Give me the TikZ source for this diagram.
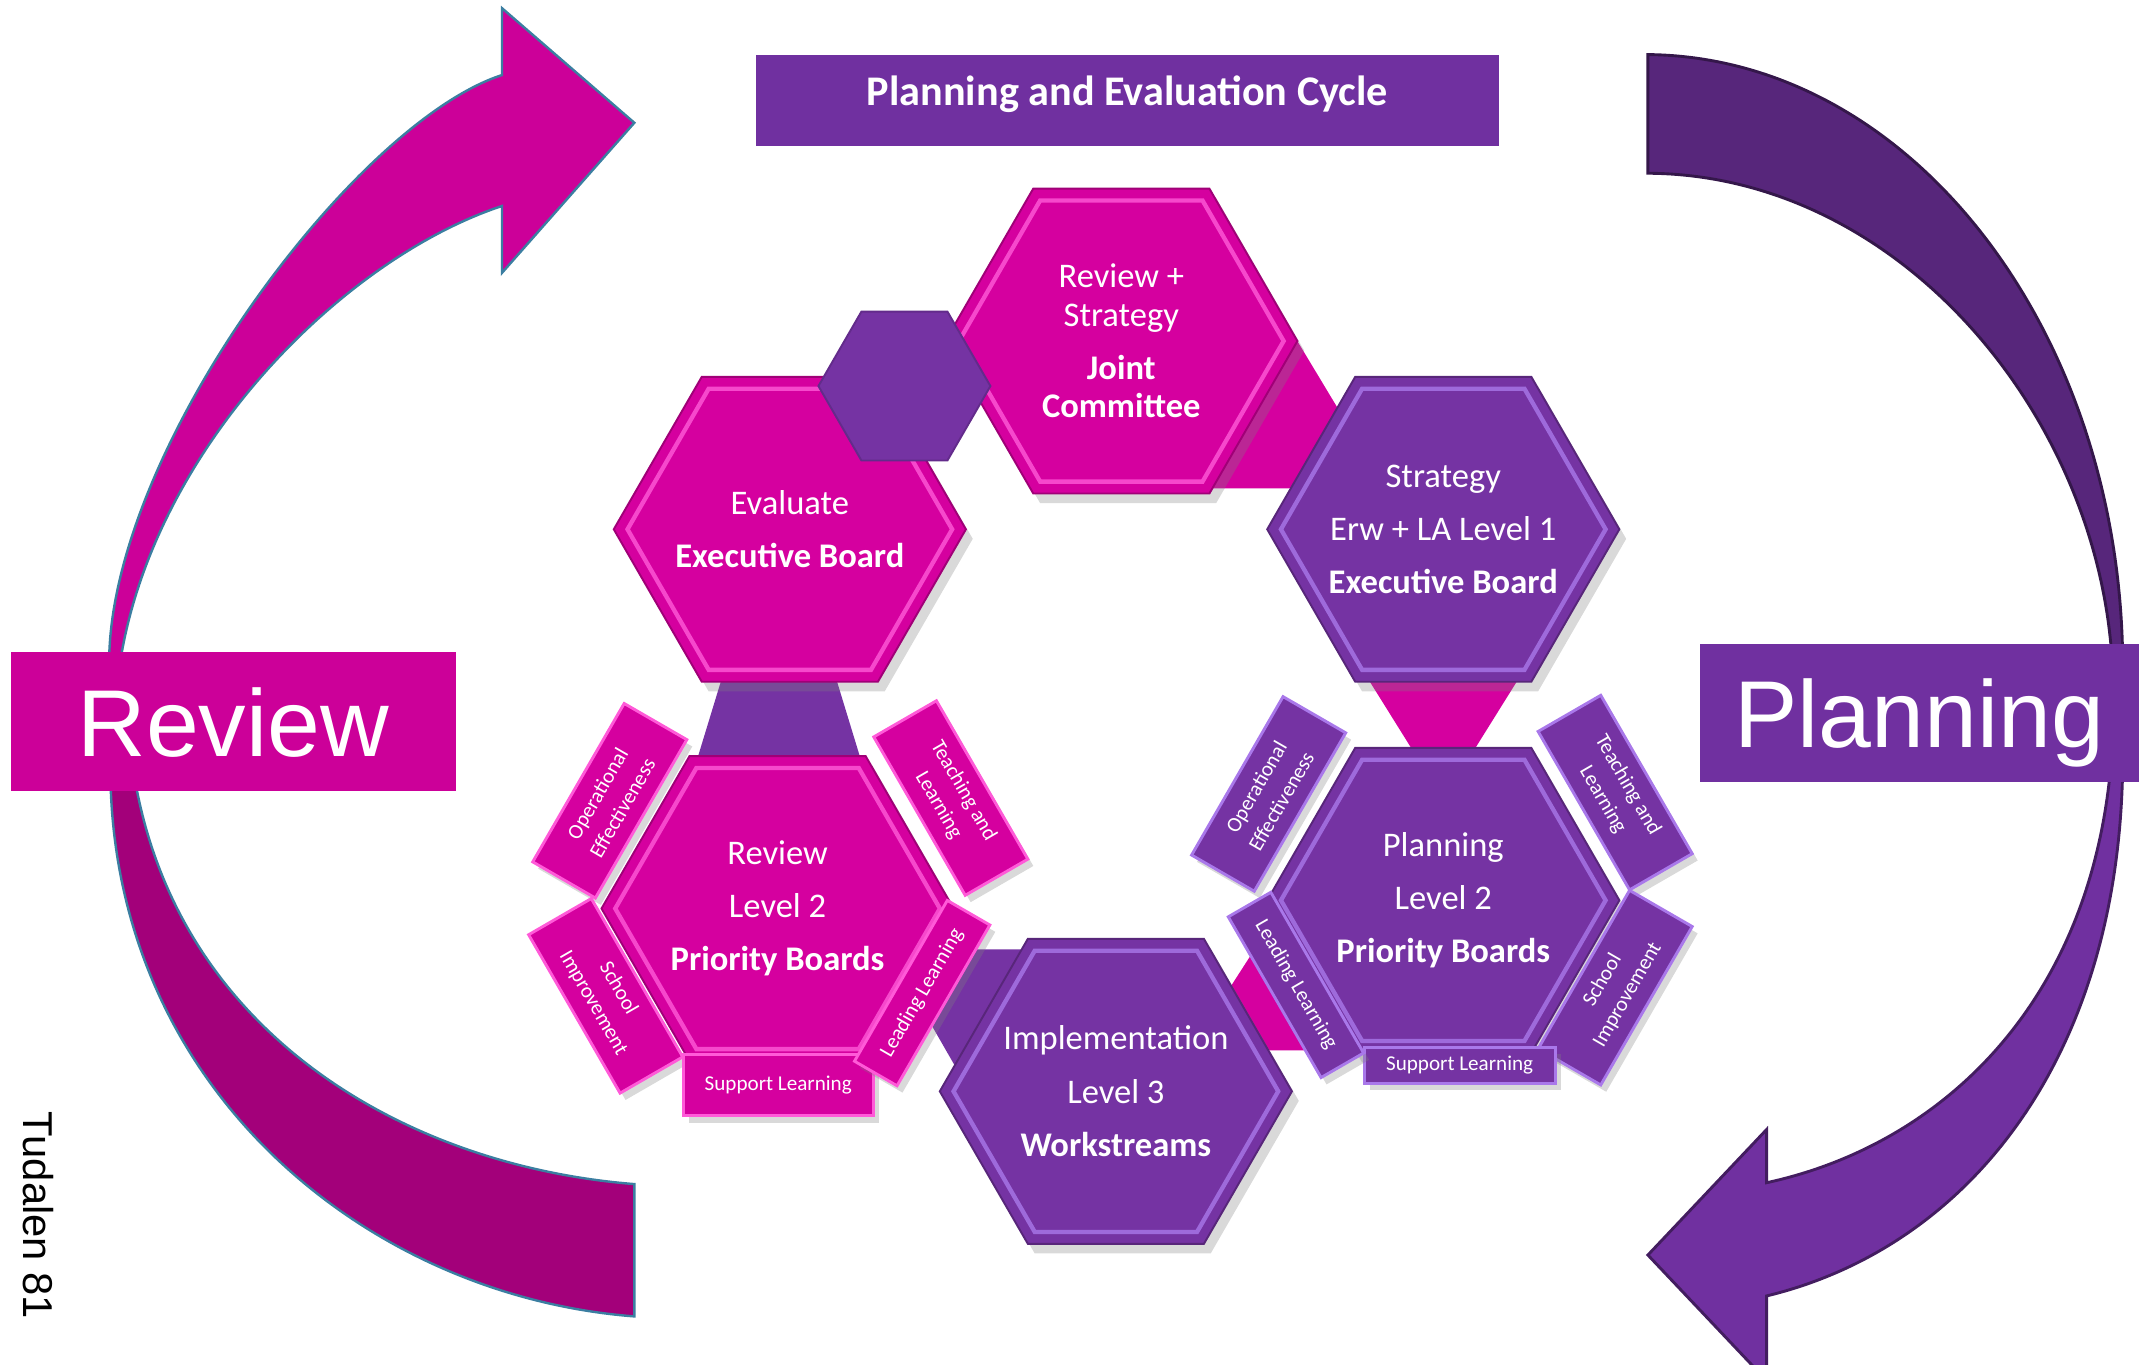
\documentclass[tikz,border=0pt]{standalone}
\usepackage{fontspec}
\setmainfont{Carlito}
\newfontfamily\arialfont{Liberation Sans}
\usetikzlibrary{shapes.geometric,shadows}

\definecolor{reviewpink}{HTML}{CC0099}
\definecolor{reviewdeep}{HTML}{A3007A}
\definecolor{planpurple}{HTML}{7030A0}
\definecolor{plandeep}{HTML}{57267B}
\definecolor{hexpink}{HTML}{D5009F}
\definecolor{hexpinklight}{HTML}{FF5AD8}
\definecolor{hexviolet}{HTML}{7533A3}
\definecolor{hexvioletlight}{HTML}{A978EA}
\definecolor{arrowedge}{HTML}{3B7EA1}

\begin{document}
\begin{tikzpicture}[x=0.01cm, y=-0.01cm,
    hexcell/.style 2 args={regular polygon, regular polygon sides=6,
      minimum size=2.58cm, inner sep=0pt, fill=#1, draw=#1!75!black,
      drop shadow={shadow xshift=0.5mm, shadow yshift=-0.7mm, opacity=0.3},
      path picture={\draw[#2, line width=0.9pt, opacity=0.8]
        (path picture bounding box.center) +(0:119) -- +(60:119) -- +(120:119)
        -- +(180:119) -- +(240:119) -- +(300:119) -- cycle;}},
    boardtext/.style={inner sep=0pt, text=white, align=center,
      font=\fontsize{7.2}{11.1}\selectfont},
    linkcell/.style={regular polygon, regular polygon sides=6,
      minimum size=1.26cm, inner sep=0pt, fill=hexviolet, draw=hexviolet!85!black},
    tabcell/.style 2 args={rectangle, inner sep=0pt, fill=#1, draw=#2,
      line width=0.6pt, text=white, align=center,
      font=\fontsize{4.4}{6}\selectfont,
      drop shadow={shadow xshift=0.4mm, shadow yshift=-0.5mm, opacity=0.3}},
    tabwide/.style={minimum width=1.34cm, minimum height=0.53cm},
    tabslim/.style={minimum width=1.36cm, minimum height=0.36cm},
    sidebox/.style={rectangle, inner sep=0pt, text=white, text depth=0pt,
      font=\arialfont\fontsize{19.8}{22}\selectfont}]
  \useasboundingbox (0,0) rectangle (1568,1000);
  \clip (0,0) rectangle (1568,1000);

  % Review arrow, upper part with head
  \draw[fill=reviewpink, draw=arrowedge, line width=0.5pt]
    (80,486) .. controls (80,330) and (260,90) .. (368,55) -- (368,6) -- (465,90)
    -- (368,200) -- (368,151) .. controls (250,190) and (112,330) .. (88,486) -- cycle;
  % Review arrow, lower part
  \draw[fill=reviewdeep, draw=arrowedge, line width=0.5pt]
    (81,572) .. controls (86,800) and (270,950) .. (465,965) -- (465,868)
    .. controls (300,855) and (132,760) .. (99,572) -- cycle;
  % Planning arrow, upper part
  \draw[fill=plandeep, draw=plandeep!60!black, line width=0.6pt]
    (1208,40) .. controls (1400,42) and (1552,240) .. (1556,480) -- (1548,480)
    .. controls (1535,300) and (1390,128) .. (1208,127) -- cycle;
  % Planning arrow, lower part with head
  \draw[fill=planpurple, draw=planpurple!60!black, line width=0.6pt]
    (1556,565) .. controls (1552,780) and (1440,915) .. (1295,950) -- (1295,1012)
    -- (1208,920) -- (1295,828) -- (1295,867)
    .. controls (1420,840) and (1530,740) .. (1547,565) -- cycle;

  % side labels and title
  \node[sidebox, fill=reviewpink, minimum width=3.26cm, minimum height=1.02cm] (reviewlabel) at (171,529) {Review};
  \node[sidebox, fill=planpurple, minimum width=3.22cm, minimum height=1.01cm] (planlabel) at (1407,522.5) {Planning};
  \node[fill=planpurple, minimum width=5.45cm, minimum height=0.67cm, inner sep=0pt, text=white, text depth=4pt,
    font=\bfseries\fontsize{8.8}{10}\selectfont] (cycletitle) at (826.5,73.5) {Planning and Evaluation Cycle};
  \node[rotate=-90, inner sep=0pt, font=\arialfont\fontsize{8.7}{10}\selectfont] (pagemark) at (28,891) {Tudalen 81};

  % triangles between the boards
  \fill[hexpink] (951,250) -- (888,358) -- (1016,358) -- cycle;
  \fill[hexviolet] (571,360) -- (510,560) -- (632,560) -- cycle;
  \fill[hexpink] (985,469) -- (1131,469) -- (1058,586) -- cycle;
  \fill[hexviolet] (651,696) -- (821,696) -- (736,844) -- cycle;
  \fill[hexpink] (872,770) -- (975,610) -- (1075,770) -- cycle;

  % boards
  \node[hexcell={hexpink}{hexpinklight},
    label={[boardtext]center:{Evaluate\\\textbf{Executive Board}}}] (evalboard) at (579,388) {};
  \node[hexcell={hexpink}{hexpinklight},
    label={[boardtext]center:{Review +\\[-3.1pt]Strategy\\\textbf{Joint}\\[-3.1pt]\textbf{Committee}}}] (jointboard) at (822,250) {};
  \node[hexcell={hexviolet}{hexvioletlight},
    label={[boardtext]center:{Strategy\\Erw + LA Level 1\\\textbf{Executive Board}}}] (strategyboard) at (1058,388) {};
  \node[hexcell={hexviolet}{hexvioletlight},
    label={[boardtext]center:{Implementation\\Level 3\\\textbf{Workstreams}}}] (workstreams) at (818,800) {};
  \node[hexcell={hexpink}{hexpinklight},
    label={[boardtext]center:{Review\\Level 2\\\textbf{Priority Boards}}}] (reviewtwo) at (570,666) {};
  \node[hexcell={hexviolet}{hexvioletlight},
    label={[boardtext]center:{Planning\\Level 2\\\textbf{Priority Boards}}}] (plantwo) at (1058,660) {};

  % priority tabs round Review level 2
  \node[tabcell={hexpink}{hexpinklight}, tabwide, rotate=60] (revopeff) at (447,587) {Operational\\Effectiveness};
  \node[tabcell={hexpink}{hexpinklight}, tabwide, rotate=-60] (revteach) at (697,585) {Teaching and\\Learning};
  \node[tabcell={hexpink}{hexpinklight}, tabwide, rotate=-60] (revschool) at (444,730) {School\\Improvement};
  \node[tabcell={hexpink}{hexpinklight}, minimum width=1.39cm, minimum height=0.45cm] (revsupport) at (570.5,795.5) {Support Learning};
  \node[tabcell={hexpink}{hexpinklight}, tabslim, rotate=60] (revlead) at (676,728) {Leading Learning};

  % priority tabs round Planning level 2
  \node[tabcell={hexviolet}{hexvioletlight}, tabwide, rotate=60] (planopeff) at (930,582) {Operational\\Effectiveness};
  \node[tabcell={hexviolet}{hexvioletlight}, tabwide, rotate=-60] (planteach) at (1184,581) {Teaching and\\Learning};
  \node[tabcell={hexviolet}{hexvioletlight}, tabwide, rotate=60] (planschool) at (1184,724) {School\\Improvement};
  \node[tabcell={hexviolet}{hexvioletlight}, minimum width=1.40cm, minimum height=0.26cm] (plansupport) at (1070,781) {Support Learning};
  \node[tabcell={hexviolet}{hexvioletlight}, tabslim, rotate=-60] (planlead) at (950,722) {Leading Learning};

  % small link between Evaluate and Joint Committee
  \node[linkcell] (linkhex) at (663,283) {};
\end{tikzpicture}
\end{document}
